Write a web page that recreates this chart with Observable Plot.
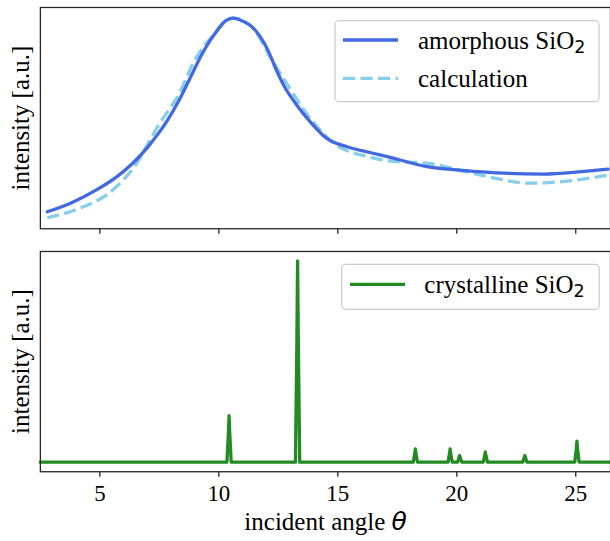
<!DOCTYPE html>
<html>
<head>
<meta charset="utf-8">
<script src="https://cdn.jsdelivr.net/npm/d3@7"></script>
<script src="https://cdn.jsdelivr.net/npm/@observablehq/plot@0.6"></script>
<style>
  html, body { margin: 0; padding: 0; background: white; overflow: hidden; }
  #c { position: relative; width: 610px; height: 541px; overflow: hidden; background: white; }
  #c > svg { position: absolute; left: 0; }
  #c svg text { font-family: "Liberation Serif", "Times New Roman", serif; }
</style>
</head>
<body>
<div id="c"></div>
<script>
// ---- data ----
const xTicks = [5, 10, 15, 20, 25];

const amorphX = [2.79, 3.77, 4.91, 5.72, 6.38, 7.02, 7.35, 7.84, 8.33, 8.81, 9.30, 9.63, 9.87, 10.2, 10.61, 11.0, 11.42, 12.07, 12.40, 12.72, 13.21, 13.86, 14.51, 15.49, 16.3, 17.12, 18.75, 20.37, 22.0, 23.63, 25.25, 26.36];
const amorphY = [0.030, 0.073, 0.143, 0.206, 0.273, 0.355, 0.405, 0.488, 0.588, 0.704, 0.821, 0.887, 0.928, 0.978, 1.000, 0.985, 0.953, 0.837, 0.745, 0.665, 0.575, 0.478, 0.400, 0.352, 0.328, 0.305, 0.256, 0.236, 0.223, 0.219, 0.231, 0.243];

const calcX = [2.79, 4.10, 5.40, 6.38, 7.51, 8.33, 8.98, 9.87, 10.3, 10.61, 11.0, 11.5, 12.23, 12.89, 13.86, 14.84, 16.30, 17.12, 18.75, 20.37, 22.0, 22.97, 24.44, 26.36];
const calcY = [0.000, 0.045, 0.125, 0.245, 0.472, 0.621, 0.787, 0.928, 0.985, 1.000, 0.990, 0.940, 0.790, 0.665, 0.495, 0.372, 0.305, 0.285, 0.273, 0.231, 0.189, 0.173, 0.181, 0.214];

const crystX = [2.5,
  10.34, 10.40, 10.43, 10.46, 10.52,
  13.22, 13.28, 13.31, 13.34, 13.40,
  18.17, 18.23, 18.26, 18.29, 18.35,
  19.63, 19.69, 19.72, 19.75, 19.81,
  20.03, 20.09, 20.12, 20.15, 20.21,
  21.11, 21.17, 21.20, 21.23, 21.29,
  22.77, 22.83, 22.86, 22.89, 22.95,
  24.96, 25.02, 25.05, 25.08, 25.14,
  26.46];
const crystY = [0,
  0, 0.139, 0.231, 0.139, 0,
  0, 0.600, 1.000, 0.600, 0,
  0, 0.040, 0.066, 0.040, 0,
  0, 0.040, 0.066, 0.040, 0,
  0, 0.020, 0.033, 0.020, 0,
  0, 0.031, 0.051, 0.031, 0,
  0, 0.020, 0.033, 0.020, 0,
  0, 0.062, 0.104, 0.062, 0,
  0];

const xDomain = [2.5, 26.46];

const amorphData = amorphX.map((x, i) => ({x, y: amorphY[i]}));
const calcData = calcX.map((x, i) => ({x, y: calcY[i]}));
const crystData = crystX.map((x, i) => ({x, y: crystY[i]}));

const serif = "Liberation Serif";
const frameColor = "#262626";
const baseStyle = {fontFamily: serif, fontSize: "23px", background: "white", color: "black"};

const topPlot = Plot.plot({
  width: 612, height: 240,
  marginLeft: 40, marginRight: 0, marginTop: 7, marginBottom: 11,
  style: baseStyle,
  x: {domain: xDomain},
  y: {domain: [-0.055, 1.053], axis: null},
  marks: [
    Plot.axisX({ticks: xTicks, tickSize: 5.5, tickFormat: () => "", label: null, stroke: frameColor, strokeWidth: 1.3}),
    Plot.line(calcData, {x: "x", y: "y", stroke: "#87CEEB", strokeWidth: 3.3, strokeDasharray: "12.2,5.3", strokeLinecap: "butt", curve: "monotone-x"}),
    Plot.line(amorphData, {x: "x", y: "y", stroke: "#4169E1", strokeWidth: 3.3, curve: "monotone-x"}),
    Plot.frame({stroke: frameColor, strokeWidth: 1.3}),
    Plot.text(["intensity [a.u.]"], {frameAnchor: "left", textAnchor: "middle", rotate: -90, dx: -19, fontSize: 25, fontFamily: serif, fill: "black"})
  ]
});
topPlot.style.top = "0px";

const bottomPlot = Plot.plot({
  width: 612, height: 301,
  marginLeft: 40, marginRight: 0, marginTop: 11, marginBottom: 69,
  style: baseStyle,
  x: {domain: xDomain},
  y: {domain: [-0.0475, 1.047], axis: null},
  marks: [
    Plot.axisX({ticks: xTicks, tickSize: 5.5, tickPadding: 8, label: null, stroke: frameColor, strokeWidth: 1.3, fill: "black", fontSize: 23, fontFamily: serif}),
    Plot.line(crystData, {x: "x", y: "y", stroke: "#228B22", strokeWidth: 3.3}),
    Plot.frame({stroke: frameColor, strokeWidth: 1.3}),
    Plot.text(["intensity [a.u.]"], {frameAnchor: "left", textAnchor: "middle", rotate: -90, dx: -19, fontSize: 25, fontFamily: serif, fill: "black"})
  ]
});
bottomPlot.style.top = "240px";

const container = document.getElementById("c");
container.appendChild(topPlot);
container.appendChild(bottomPlot);

// overlay: legends and x-axis label
const ns = "http://www.w3.org/2000/svg";
const ov = document.createElementNS(ns, "svg");
ov.setAttribute("width", 610);
ov.setAttribute("height", 541);
ov.style.position = "absolute";
ov.style.left = "0px";
ov.style.top = "0px";
ov.innerHTML = `
  <g font-size="25" fill="black">
    <rect x="335" y="20.7" width="264" height="81" rx="4" fill="white" fill-opacity="0.8" stroke="#cccccc" stroke-width="1.2"/>
    <line x1="343" x2="398" y1="40" y2="40" stroke="#4169E1" stroke-width="3.3"/>
    <line x1="343" x2="398" y1="78.3" y2="78.3" stroke="#87CEEB" stroke-width="3.3" stroke-dasharray="12.2,5.3"/>
    <text x="418" y="49.3">amorphous SiO<tspan style="font-family:'DejaVu Sans',sans-serif" font-size="17.5" dy="4">2</tspan></text>
    <text x="418" y="86.7">calculation</text>

    <rect x="341.7" y="264.3" width="257.6" height="45" rx="4" fill="white" fill-opacity="0.8" stroke="#cccccc" stroke-width="1.2"/>
    <line x1="350" x2="405" y1="284.3" y2="284.3" stroke="#228B22" stroke-width="3.3"/>
    <text x="424.3" y="292.7">crystalline SiO<tspan style="font-family:'DejaVu Sans',sans-serif" font-size="17.5" dy="4">2</tspan></text>

    <text x="325.6" y="530.3" text-anchor="middle">incident angle <tspan style="font-family:'DejaVu Sans',sans-serif;font-style:italic">θ</tspan></text>
  </g>`;
container.appendChild(ov);
</script>
</body>
</html>
